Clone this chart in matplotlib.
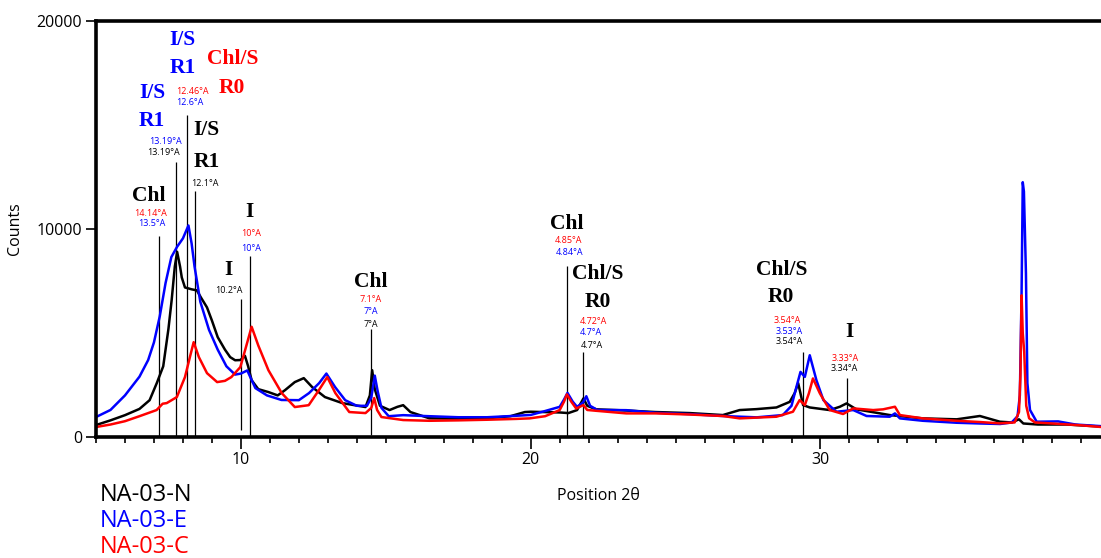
import matplotlib
matplotlib.use("Agg")
import matplotlib.pyplot as plt
from matplotlib.ticker import MultipleLocator

# ---------------- data ----------------
n_x = [5.0, 5.5, 6.0, 6.5, 6.85, 7.1, 7.32, 7.5, 7.61, 7.72, 7.8, 7.9, 7.96, 8.07, 8.3,
       8.48, 8.62, 8.83, 9.0, 9.2, 9.45, 9.63, 9.8, 9.98, 10.14, 10.25, 10.37, 10.6,
       10.95, 11.27, 11.52, 11.86, 12.17, 12.46, 12.9, 13.5, 14.3, 14.45, 14.53, 14.62,
       14.8, 15.13, 15.4, 15.6, 15.85, 16.5, 17.5, 18.5, 19.3, 19.8, 20.0, 21.0, 21.3,
       21.6, 21.82, 21.95, 22.26, 23.2, 24.3, 25.49, 26.63, 27.21, 27.79, 28.48, 28.94,
       29.11, 29.23, 29.4, 29.63, 30.32, 30.67, 30.9, 31.24, 32.39, 33.53, 34.7, 35.5,
       36.19, 36.6, 36.85, 37.0, 37.5, 38.5, 39.7]
n_y = [575, 800, 1050, 1350, 1770, 2600, 3400, 5200, 6570, 8200, 8900, 8200, 7670, 7190, 7100,
       7050, 6710, 6230, 5600, 4800, 4200, 3840, 3690, 3700, 3900, 3400, 2730, 2300,
       2160, 2000, 2250, 2640, 2830, 2400, 1920, 1630, 1440, 2000, 3210, 2300,
       1500, 1295, 1450, 1530, 1200, 900, 880, 900, 1000, 1200, 1215, 1180, 1150,
       1295, 1855, 1500, 1330, 1280, 1200, 1150, 1055, 1295, 1340, 1420, 1690,
       2110, 2590, 1535, 1420, 1295, 1455, 1615, 1330, 1055, 895, 850, 1010,
       735, 700, 850, 650, 600, 600, 500]

e_x = [5.0, 5.5, 6.0, 6.5, 6.8, 7.0, 7.2, 7.4, 7.6, 7.8, 8.0, 8.19, 8.3, 8.4, 8.6, 8.9,
       9.2, 9.5, 9.8, 10.0, 10.22, 10.35, 10.5, 10.9, 11.4, 12.0, 12.35, 12.7, 12.95,
       13.25, 13.6, 14.0, 14.35, 14.5, 14.62, 14.72, 14.85, 15.1, 15.6, 16.5, 17.5,
       18.5, 19.5, 20.0, 20.5, 21.0, 21.15, 21.27, 21.45, 21.6, 21.8, 21.92, 22.05,
       22.3, 23.3, 24.3, 25.5, 26.6, 27.8, 28.7, 29.0, 29.15, 29.31, 29.46, 29.63,
       29.86, 30.1, 30.55, 31.13, 31.59, 32.39, 32.57, 32.74, 33.53, 34.7, 35.5, 36.2,
       36.6, 36.8, 36.88, 36.94, 36.98, 37.02, 37.09, 37.14, 37.23, 37.46, 38.2, 38.8,
       39.7]
e_y = [960, 1300, 2000, 2900, 3700, 4550, 5800, 7400, 8650, 9150, 9550, 10170, 9300, 8200,
       6500, 5150, 4200, 3400, 3000, 3050, 3200, 2800, 2350, 2000, 1780, 1770, 2110,
       2590, 3050, 2400, 1770, 1500, 1500, 1900, 2950, 2200, 1400, 1000, 1050, 1000,
       950, 950, 1020, 1060, 1250, 1450, 1800, 2120, 1700, 1450, 1650, 1960, 1500,
       1300, 1290, 1165, 1100, 1010, 945, 1055, 1500, 2300, 3130, 2890, 3930, 2730,
       1775, 1215, 1295, 1010, 975, 1135, 895, 780, 685, 650, 625, 700, 1000, 2000,
       7000, 12250, 11800, 7870, 2590, 1300, 735, 750, 600, 520]

c_x = [5.0, 5.5, 6.0, 6.5, 7.09, 7.3, 7.44, 7.79, 8.07, 8.24, 8.37, 8.55, 8.83, 9.18,
       9.45, 9.67, 9.98, 10.15, 10.37, 10.6, 10.95, 11.41, 11.86, 12.34, 12.69, 12.98,
       13.26, 13.74, 14.3, 14.5, 14.6, 14.7, 14.85, 15.6, 16.5, 17.5, 18.5, 19.5, 19.96,
       20.5, 21.0, 21.15, 21.25, 21.4, 21.57, 21.82, 21.95, 22.26, 23.3, 24.33, 25.5,
       26.63, 27.21, 28.48, 29.05, 29.28, 29.46, 29.6, 29.74, 29.98, 30.32, 30.78,
       31.13, 31.82, 32.16, 32.57, 32.74, 33.53, 34.7, 35.5, 36.19, 36.7, 36.85, 36.9,
       36.94, 36.98, 37.03, 37.1, 37.2, 37.4, 38.0, 39.0, 39.7]
c_y = [480, 600, 760, 1000, 1295, 1600, 1630, 1920, 2880, 3840, 4560, 3840, 3070, 2640,
       2700, 2880, 3360, 4200, 5300, 4400, 3210, 2110, 1440, 1530, 2250, 2880,
       2110, 1200, 1150, 1400, 1870, 1300, 960, 815, 780, 800, 830, 870, 895,
       1000, 1295, 1700, 2050, 1700, 1370, 1535, 1300, 1260, 1135, 1135, 1080,
       1010, 895, 975, 1215, 1775, 1535, 2100, 2815, 2095, 1295, 1105,
       1375, 1295, 1330, 1455, 1055, 895, 780, 720, 655, 700, 1200, 3000,
       6810, 5000, 4100, 1500, 900, 700, 650, 560, 480]

series_names = ["NA-03-N", "NA-03-E", "NA-03-C"]
series_colors = ["black", "#0000ff", "#ff0000"]

# annotation guide lines: position (2theta), top (counts), bottom (counts)
line_x = [7.19, 7.75, 8.13, 8.41, 10.0, 10.30, 14.49, 21.25, 21.82, 29.38, 30.9]
line_top = [9640, 13203, 15491, 11846, 6618, 8681, 5180, 8201, 4091, 4091, 2830]
line_bot = [0, 0, 0, 0, 330, 0, 100, 0, 0, 0, 0]

# mineral labels (big serif): text, x, y, colour
big_text = ["I/S", "R1", "Chl/S", "R0", "I/S", "R1", "I/S", "R1", "Chl", "I", "I",
            "Chl", "Chl", "Chl/S", "R0", "Chl/S", "R0", "I"]
big_x = [7.98, 7.98, 9.70, 9.70, 6.94, 6.94, 8.81, 8.81, 6.83, 10.31, 9.56,
         14.47, 21.25, 22.32, 22.32, 28.65, 28.65, 31.01]
big_y = [19090, 17745, 18177, 16786, 16546, 15203, 14757, 13203, 11606, 10805, 8009,
         7448, 10249, 7851, 6489, 8009, 6729, 5050]
big_c = ["b", "b", "r", "r", "b", "b", "k", "k", "k", "k", "k",
         "k", "k", "k", "k", "k", "k", "k"]

# d-spacing labels (small sans)
small_text = ["12.46°A", "12.6°A", "13.19°A", "13.19°A", "12.1°A", "14.14°A", "13.5°A",
              "10°A", "10°A", "10.2°A", "7.1°A", "7°A", "7°A", "4.85°A", "4.84°A",
              "4.72°A", "4.7°A", "4.7°A", "3.54°A", "3.53°A", "3.54°A", "3.33°A", "3.34°A"]
small_x = [8.32, 8.24, 7.41, 7.33, 8.76, 6.89, 6.93, 10.34, 10.35, 9.60, 14.47, 14.47, 14.47,
           21.31, 21.34, 22.17, 22.09, 22.11, 28.85, 28.91, 28.92, 30.84, 30.84]
small_y = [16609, 16081, 14196, 13669, 12168, 10757, 10249, 9793, 9050, 7050, 6604, 6057,
           5405, 9448, 8858, 5530, 5002, 4379, 5611, 5084, 4604, 3774, 3295]
small_c = ["r", "b", "b", "k", "k", "r", "b", "r", "b", "k", "r", "b", "k", "r", "b",
           "r", "b", "k", "r", "b", "k", "r", "k"]

cmap = {"k": "black", "b": "#0000ff", "r": "#ff0000"}

# ---------------- figure ----------------
fig = plt.figure(figsize=(11.01, 5.58), dpi=100)
ax = fig.add_axes([96 / 1101, 1 - 437 / 558, 1 - 96 / 1101, (437 - 21) / 558])

for xs, ys, col in zip([n_x, e_x, c_x], [n_y, e_y, c_y], series_colors):
    ax.plot(xs, ys, color=col, lw=1.8, solid_joinstyle="round")

ax.vlines(line_x, line_bot, line_top, color="black", lw=0.9, zorder=1)

for t, x, y, c in zip(big_text, big_x, big_y, big_c):
    ax.text(x, y, t, color=cmap[c], ha="center", va="center",
            family="Liberation Serif", fontweight="bold", fontsize=15.5)
for t, x, y, c in zip(small_text, small_x, small_y, small_c):
    ax.text(x, y, t, color=cmap[c], ha="center", va="center",
            family="Open Sans", fontsize=6.5)

ax.set_xlim(5, 39.68)
ax.set_ylim(0, 20000)
ax.set_xticks([10, 20, 30])
ax.xaxis.set_minor_locator(MultipleLocator(1))
ax.set_yticks([0, 10000, 20000])
ax.tick_params(axis="both", which="major", direction="out", width=1.2, labelsize=11.5,
               labelfontfamily="Open Sans")
ax.tick_params(axis="x", which="major", length=8.5, pad=2)
ax.tick_params(axis="x", which="minor", length=4, width=1.2)
ax.tick_params(axis="y", which="major", length=7, pad=3)

for side in ["left", "bottom", "top"]:
    ax.spines[side].set_linewidth(2.6)
ax.spines["right"].set_visible(False)

ax.set_xlabel("Position 2θ", family="Open Sans", fontsize=11.5, labelpad=15)
ax.set_ylabel("Counts", family="Open Sans", fontsize=11.5, labelpad=10)

for i, (name, col) in enumerate(zip(series_names, series_colors)):
    fig.text(100 / 1101, 1 - (495 + 26 * i) / 558, name, color=col, ha="left",
             va="center", family="Open Sans", fontsize=17)

fig.savefig("out.png", dpi=100)
